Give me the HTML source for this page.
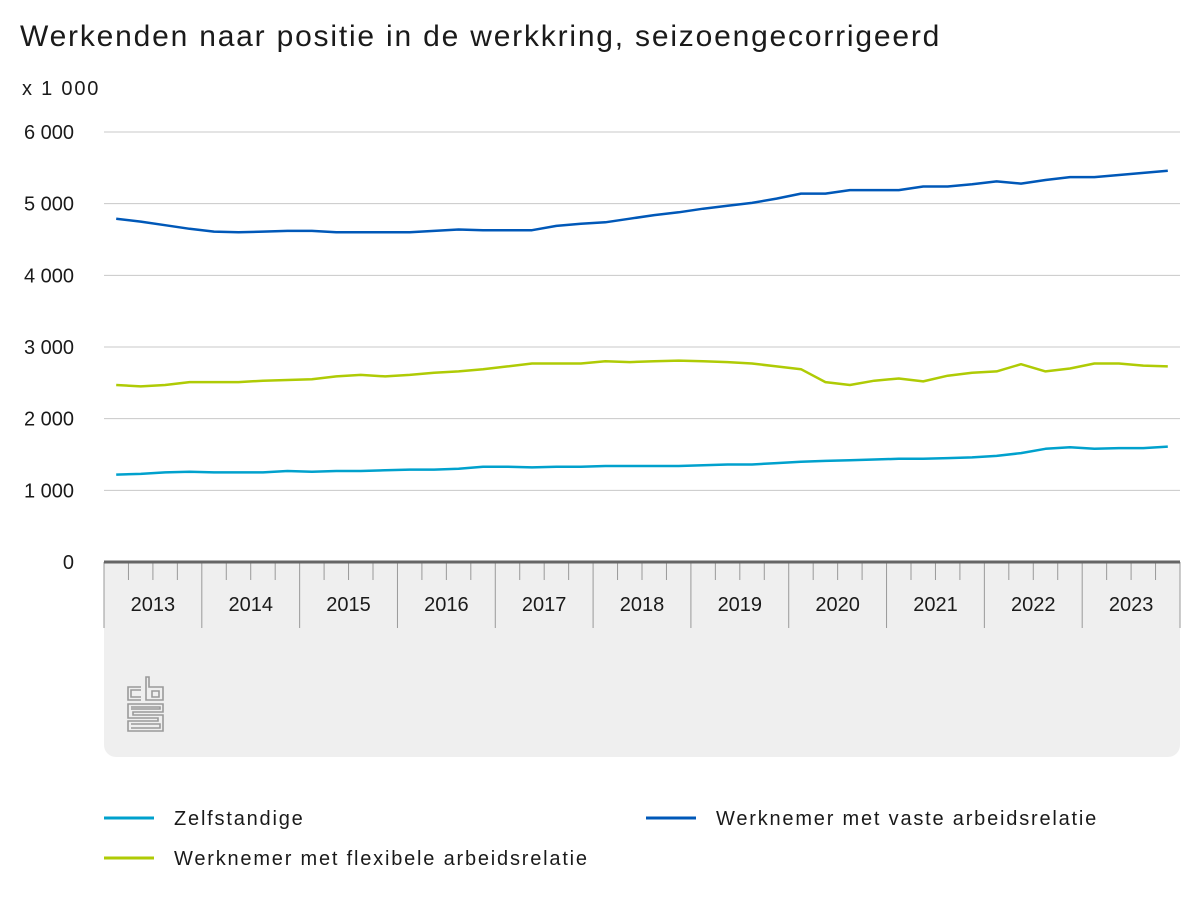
<!DOCTYPE html>
<html><head><meta charset="utf-8"><style>
body{margin:0;background:#fff;width:1200px;height:900px;overflow:hidden;font-family:"Liberation Sans",sans-serif}
.ls{letter-spacing:1.8px}
</style></head><body>
<svg width="1200" height="900" xmlns="http://www.w3.org/2000/svg" font-family="Liberation Sans, sans-serif">
<text class="ls" x="20" y="46" font-size="30" fill="#1a1a1a">Werkenden naar positie in de werkkring, seizoengecorrigeerd</text>
<text class="ls" x="22" y="95" font-size="20" fill="#1a1a1a">x 1 000</text>
<path d="M104 562 V745 a12 12 0 0 0 12 12 H1168 a12 12 0 0 0 12 -12 V562 Z" fill="#efefef"/>
<g id="grid" stroke="#c8c8c8" stroke-width="1"></g>
<g id="ylab" font-size="20" fill="#1a1a1a" text-anchor="end"></g>
<g id="xt" stroke="#999" stroke-width="1"></g>
<g id="xl" font-size="20" fill="#1a1a1a" text-anchor="middle"></g>
<line x1="104" y1="562" x2="1180" y2="562" stroke="#666" stroke-width="3"/>
<g id="lines" fill="none" stroke-width="2.5" stroke-linejoin="round"></g>
<g fill="none" stroke="#9a9a9a" stroke-width="1.6">
<path d="M141 687 H128 V700 H141 M141 690 H131 V697 H141"/>
<path d="M146 677 V700 H163 V687 H149 V677 Z M152 691 h7 v6 h-7 z"/>
<path d="M163 704 H128 V718 H158 V721 H128 V731 H163 V715 H133 V712 H163 Z M131 707 H160 V709 H131 M131 724 H160 V728 H131"/>
</g>
<line x1="104" y1="818" x2="154" y2="818" stroke="#00a1cd" stroke-width="3"/>
<text class="ls" x="174" y="825" font-size="20" fill="#1a1a1a">Zelfstandige</text>
<line x1="646" y1="818" x2="696" y2="818" stroke="#0058b8" stroke-width="3"/>
<text class="ls" x="716" y="825" font-size="20" fill="#1a1a1a">Werknemer met vaste arbeidsrelatie</text>
<line x1="104" y1="858" x2="154" y2="858" stroke="#afcb05" stroke-width="3"/>
<text class="ls" x="174" y="865" font-size="20" fill="#1a1a1a">Werknemer met flexibele arbeidsrelatie</text>
</svg>
<script>
const ns="http://www.w3.org/2000/svg";
function el(p,t,a,txt){const e=document.createElementNS(ns,t);for(const k in a)e.setAttribute(k,a[k]);if(txt!=null)e.textContent=txt;document.getElementById(p).appendChild(e);}
const Y=v=>562-v*430/6000;
for(let i=0;i<=6;i++){const y=Y(i*1000);if(i>0)el("grid","line",{x1:104,x2:1180,y1:y,y2:y});el("ylab","text",{x:74,y:y+7},i==0?"0":i+" 000");}
const w=1076/44;
for(let q=0;q<=44;q++){const x=104+q*w;if(q%4==0)el("xt","line",{x1:x,x2:x,y1:562,y2:628});else el("xt","line",{x1:x,x2:x,y1:562,y2:580});}
for(let y=0;y<11;y++)el("xl","text",{x:104+(y*4+2)*w,y:611},2013+y);
const X=i=>104+(i+0.5)*w;
const d={
"#0058b8":[4790,4750,4700,4650,4610,4600,4610,4620,4620,4600,4600,4600,4600,4620,4640,4630,4630,4630,4690,4720,4740,4790,4840,4880,4930,4970,5010,5070,5140,5140,5190,5190,5190,5240,5240,5270,5310,5280,5330,5370,5370,5400,5430,5460],
"#afcb05":[2470,2450,2470,2510,2510,2510,2530,2540,2550,2590,2610,2590,2610,2640,2660,2690,2730,2770,2770,2770,2800,2790,2800,2810,2800,2790,2770,2730,2690,2510,2470,2530,2560,2520,2600,2640,2660,2760,2660,2700,2770,2770,2740,2730],
"#00a1cd":[1220,1230,1250,1260,1250,1250,1250,1270,1260,1270,1270,1280,1290,1290,1300,1330,1330,1320,1330,1330,1340,1340,1340,1340,1350,1360,1360,1380,1400,1410,1420,1430,1440,1440,1450,1460,1480,1520,1580,1600,1580,1590,1590,1610]};
for(const c in d)el("lines","polyline",{stroke:c,points:d[c].map((v,i)=>X(i).toFixed(1)+","+Y(v).toFixed(1)).join(" ")});
</script>
</body></html>
